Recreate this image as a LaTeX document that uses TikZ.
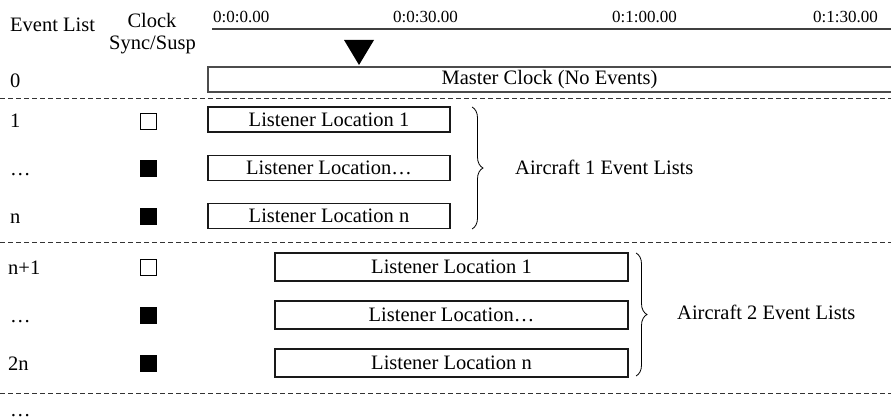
\documentclass[tikz,border=0pt]{standalone}
\usepackage{fontspec}
\setmainfont{Liberation Serif}
\usetikzlibrary{decorations.pathreplacing}
\begin{document}
\begin{tikzpicture}[x=1pt,y=-1pt,
  txt/.style={font=\fontsize{20.5}{24}\selectfont, inner sep=0pt},
  lbl/.style={txt, anchor=base west},
  tlab/.style={font=\fontsize{17}{20}\selectfont, inner sep=0pt, anchor=base west},
  lbox/.style={txt, draw=black!90, line width=1.1pt},
  chk/.style={draw=black, line width=0.8pt, minimum size=16pt, inner sep=0pt},
  chkon/.style={chk, fill=black},
  sep/.style={dash pattern=on 5pt off 3pt, line width=0.9pt, draw=black!80},
  mline/.style={line width=2pt, draw=black!70},
  tline/.style={line width=1.6pt, draw=black!75},
  brc/.style={decorate, decoration={brace, amplitude=11pt, aspect=0.5}, line width=0.8pt}
  ]
\useasboundingbox (0,0) rectangle (891,420);

% headers
\node[lbl] (hev) at (10,32) {Event List};
\node[txt, anchor=base] (hclk) at (152,28) {Clock};
\node[txt, anchor=base] (hsync) at (152.5,50) {Sync/Susp};

% timeline
\node[tlab] (t0) at (213,23) {0:0:0.00};
\node[tlab] (t1) at (393,23) {0:0:30.00};
\node[tlab] (t2) at (612,23) {0:1:00.00};
\node[tlab] (t3) at (813,23) {0:1:30.00};
\coordinate (tlA) at (212,29);
\coordinate (tlB) at (891,29);
\draw[tline] (tlA) -- (tlB);
\fill[black] (344,40) -- (374,40) -- (359,65) -- cycle;

% master clock
\node[lbl] (r0) at (10,87) {0};
\node[txt, minimum width=683pt, minimum height=25pt] (mc) at (549.5,79.5) {Master Clock (No Events)};
\draw[mline] (mc.north east) -- (mc.north west) -- (mc.south west) -- (mc.south east);

% separators
\coordinate (s1a) at (0,98);    \coordinate (s1b) at (891,98);
\coordinate (s2a) at (0,242.5); \coordinate (s2b) at (891,242.5);
\coordinate (s3a) at (0,393);   \coordinate (s3b) at (891,393);
\draw[sep] (s1a) -- (s1b);
\draw[sep] (s2a) -- (s2b);
\draw[sep] (s3a) -- (s3b);

% group 1
\node[lbl] (r1) at (10,127) {1};
\node[lbl] (r2) at (10,175) {…};
\node[lbl] (r3) at (10,223) {n};
\node[chk] (c1) at (148.5,121) {};
\node[chkon] (c2) at (148.5,168.5) {};
\node[chkon] (c3) at (148.5,216.5) {};
\node[lbox, minimum width=242pt, minimum height=25pt] (a1) at (329,119.5) {Listener Location 1};
\node[lbox, minimum width=242pt, minimum height=25pt] (a2) at (329,168) {Listener Location…};
\node[lbox, minimum width=242pt, minimum height=25pt] (a3) at (329,216) {Listener Location n};
\coordinate (b1t) at (472,107);
\coordinate (b1b) at (472,229);
\draw[brc] (b1t) -- (b1b);
\node[txt, anchor=west] (ac1) at (515,167.5) {Aircraft 1 Event Lists};

% group 2
\node[lbl] (r4) at (8,274) {n+1};
\node[lbl] (r5) at (10,322) {…};
\node[lbl] (r6) at (8,370) {2n};
\node[chk] (c4) at (148.5,267) {};
\node[chkon] (c5) at (148.5,315) {};
\node[chkon] (c6) at (148.5,363.5) {};
\node[lbox, minimum width=353pt, minimum height=28pt] (b1) at (451.5,267) {Listener Location 1};
\node[lbox, minimum width=353pt, minimum height=28pt] (b2) at (451.5,315) {Listener Location…};
\node[lbox, minimum width=353pt, minimum height=28pt] (b3) at (451.5,363) {Listener Location n};
\coordinate (b2t) at (636,253);
\coordinate (b2b) at (636,376);
\draw[brc] (b2t) -- (b2b);
\node[txt, anchor=west] (ac2) at (677,312.5) {Aircraft 2 Event Lists};

% trailing ellipsis
\node[lbl] (r7) at (10,416) {…};
\end{tikzpicture}
\end{document}
